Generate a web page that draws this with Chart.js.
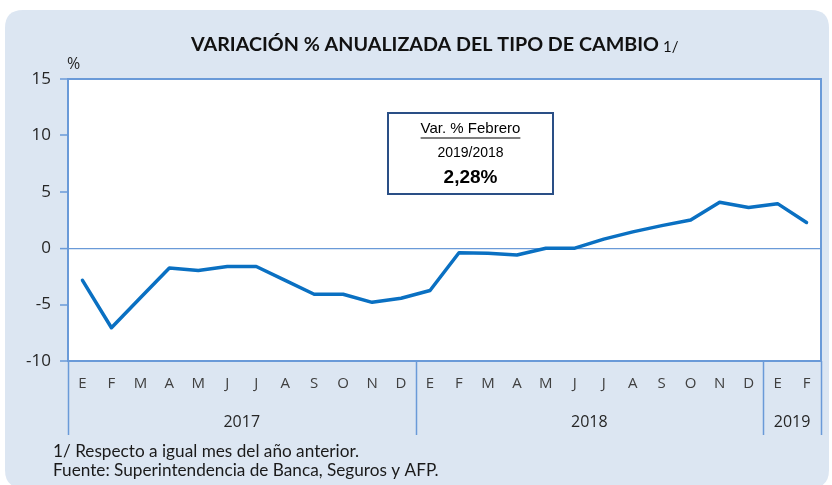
<!DOCTYPE html>
<html>
<head>
<meta charset="utf-8">
<script src="https://cdn.jsdelivr.net/npm/chart.js@4/dist/chart.umd.min.js"></script>
<style>
html,body{margin:0;padding:0;background:#ffffff;}
#wrap{width:832px;height:485px;position:relative;}
</style>
</head>
<body>
<div id="wrap"><canvas id="c" width="832" height="485"></canvas></div>
<script>
const months = ['E','F','M','A','M','J','J','A','S','O','N','D','E','F','M','A','M','J','J','A','S','O','N','D','E','F'];
const years = ['2017','2018','2019'];
const yearGroupSizes = [12, 12, 2];
const variacion = [-2.85,-7.05,-4.4,-1.75,-1.97,-1.62,-1.62,-2.85,-4.08,-4.08,-4.8,-4.44,-3.75,-0.4,-0.45,-0.6,0.0,0.0,0.8,1.45,2.0,2.5,4.08,3.6,3.95,2.28];
const yTicks = [-10,-5,0,5,10,15];
const titleText = 'VARIACIÓN % ANUALIZADA DEL TIPO DE CAMBIO';
const titleNote = '1/';
const footnotes = ['1/ Respecto a igual mes del año anterior.','Fuente: Superintendencia de Banca, Seguros y AFP.'];
const boxLines = ['Var. % Febrero','2019/2018','2,28%'];

const AXIS = '#6a9ad8';
const PANEL = '#dce6f2';

function roundRect(ctx,x,y,w,h,r){
  ctx.beginPath();
  ctx.moveTo(x+r,y);ctx.lineTo(x+w-r,y);ctx.quadraticCurveTo(x+w,y,x+w,y+r);
  ctx.lineTo(x+w,y+h-r);ctx.quadraticCurveTo(x+w,y+h,x+w-r,y+h);
  ctx.lineTo(x+r,y+h);ctx.quadraticCurveTo(x,y+h,x,y+h-r);
  ctx.lineTo(x,y+r);ctx.quadraticCurveTo(x,y,x+r,y);ctx.closePath();
}
function fitFont(ctx,text,weight,family,targetW){
  ctx.font = weight+' 20px '+family;
  const w = ctx.measureText(text).width;
  return 20*targetW/w;
}

const decor = {
  id:'decor',
  beforeDraw(chart){
    const ctx = chart.ctx, a = chart.chartArea;
    ctx.save();
    ctx.fillStyle = '#ffffff';
    ctx.fillRect(0,0,chart.width,chart.height);
    roundRect(ctx,5,10,824,478,18);
    ctx.fillStyle = PANEL; ctx.fill();
    ctx.fillStyle = '#ffffff';
    ctx.fillRect(a.left,a.top,a.right-a.left,a.bottom-a.top);
    ctx.restore();
  },
  afterDraw(chart){
    const ctx = chart.ctx, a = chart.chartArea, xs = chart.scales.x;
    ctx.save();
    // plot frame (top & right)
    ctx.strokeStyle = AXIS; ctx.lineWidth = 2;
    ctx.beginPath();
    ctx.moveTo(a.left,a.top);ctx.lineTo(a.right,a.top);ctx.lineTo(a.right,a.bottom);
    ctx.stroke();
    // group separators
    ctx.lineWidth = 1.5;
    let idx = 0;
    const seps = [-0.5];
    yearGroupSizes.forEach(n=>{idx+=n;seps.push(idx-0.5);});
    seps.forEach(v=>{
      const x = Math.round(xs.getPixelForValue(v))+0.5;
      ctx.beginPath();ctx.moveTo(x,a.bottom);ctx.lineTo(x,a.bottom+74);ctx.stroke();
    });
    // year labels
    ctx.fillStyle = '#262626';
    ctx.font = '16px "Open Sans", sans-serif';
    ctx.textAlign = 'center'; ctx.textBaseline = 'middle';
    idx = 0;
    years.forEach((y,i)=>{
      const c = idx + (yearGroupSizes[i]-1)/2;
      ctx.fillText(y, xs.getPixelForValue(c), a.bottom+61);
      idx += yearGroupSizes[i];
    });
    // title
    ctx.textAlign = 'left';
    const ts = fitFont(ctx,titleText,'bold','Lato, sans-serif',468);
    ctx.font = 'bold '+ts.toFixed(2)+'px Lato, sans-serif';
    const tw = ctx.measureText(titleText).width;
    ctx.fillStyle = '#111111';
    ctx.fillText(titleText, 191, 45);
    ctx.font = '15px Lato, sans-serif';
    ctx.fillText(titleNote, 191 + tw + 4, 47);
    // % unit
    ctx.font = '16px "Open Sans", sans-serif';
    ctx.fillStyle = '#262626';
    ctx.fillText('%', 67, 64);
    // footnotes
    const fs = fitFont(ctx,footnotes[1],'normal','Lato, sans-serif',386);
    ctx.font = fs.toFixed(2)+'px Lato, sans-serif';
    ctx.fillStyle = '#1a1a1a';
    ctx.fillText(footnotes[0], 53, 451);
    ctx.fillText(footnotes[1], 53, 470);
    // annotation box
    const bx = 388, by = 113, bw = 165, bh = 81;
    ctx.fillStyle = '#ffffff';
    ctx.fillRect(bx,by,bw,bh);
    ctx.strokeStyle = '#2a4f86'; ctx.lineWidth = 2;
    ctx.strokeRect(bx,by,bw,bh);
    const cx = bx + bw/2;
    ctx.textAlign = 'center';
    ctx.fillStyle = '#000000';
    ctx.font = '15px "Liberation Sans", Arial, sans-serif';
    ctx.fillText(boxLines[0], cx, 129);
    const w0 = ctx.measureText(boxLines[0]).width;
    ctx.lineWidth = 1.2; ctx.strokeStyle = '#000';
    ctx.beginPath();ctx.moveTo(cx-w0/2,138);ctx.lineTo(cx+w0/2,138);ctx.stroke();
    ctx.font = '14px "Liberation Sans", Arial, sans-serif';
    ctx.fillText(boxLines[1], cx, 153);
    ctx.font = 'bold 19px "Liberation Sans", Arial, sans-serif';
    ctx.fillText(boxLines[2], cx, 178);
    ctx.restore();
  }
};

new Chart(document.getElementById('c'), {
  type:'line',
  data:{
    labels: months,
    datasets:[{
      data: variacion,
      borderColor:'#0a70c2',
      borderWidth:3.5,
      pointRadius:0,
      tension:0,
      fill:false,
      borderJoinStyle:'round',
      borderCapStyle:'round'
    }]
  },
  options:{
    responsive:false,
    animation:false,
    devicePixelRatio:1,
    layout:{padding:{top:79,right:11,left:0,bottom:0}},
    plugins:{legend:{display:false},tooltip:{enabled:false},title:{display:false}},
    scales:{
      x:{
        type:'category',
        offset:true,
        grid:{display:true,drawOnChartArea:false,drawTicks:false},
        border:{display:true,color:AXIS,width:2},
        ticks:{color:'#404040',font:{family:'"Open Sans", sans-serif',size:15},padding:14,autoSkip:false,maxRotation:0},
        afterFit(s){s.height = 124;}
      },
      y:{
        min:-10,max:15,
        afterBuildTicks(s){s.ticks = yTicks.map(v=>({value:v}));},
        grid:{
          drawOnChartArea:true,
          color:(c)=> (c.tick && c.tick.value===0) ? AXIS : 'rgba(0,0,0,0)',
          lineWidth:(c)=> (c.tick && c.tick.value===0) ? 1.2 : 0,
          drawTicks:true,tickLength:8,tickColor:AXIS,tickWidth:1.5
        },
        border:{display:true,color:AXIS,width:2},
        ticks:{color:'#262626',font:{family:'"Open Sans", sans-serif',size:17},padding:9},
        afterFit(s){s.width = 68;}
      }
    }
  },
  plugins:[decor]
});
</script>
</body>
</html>
